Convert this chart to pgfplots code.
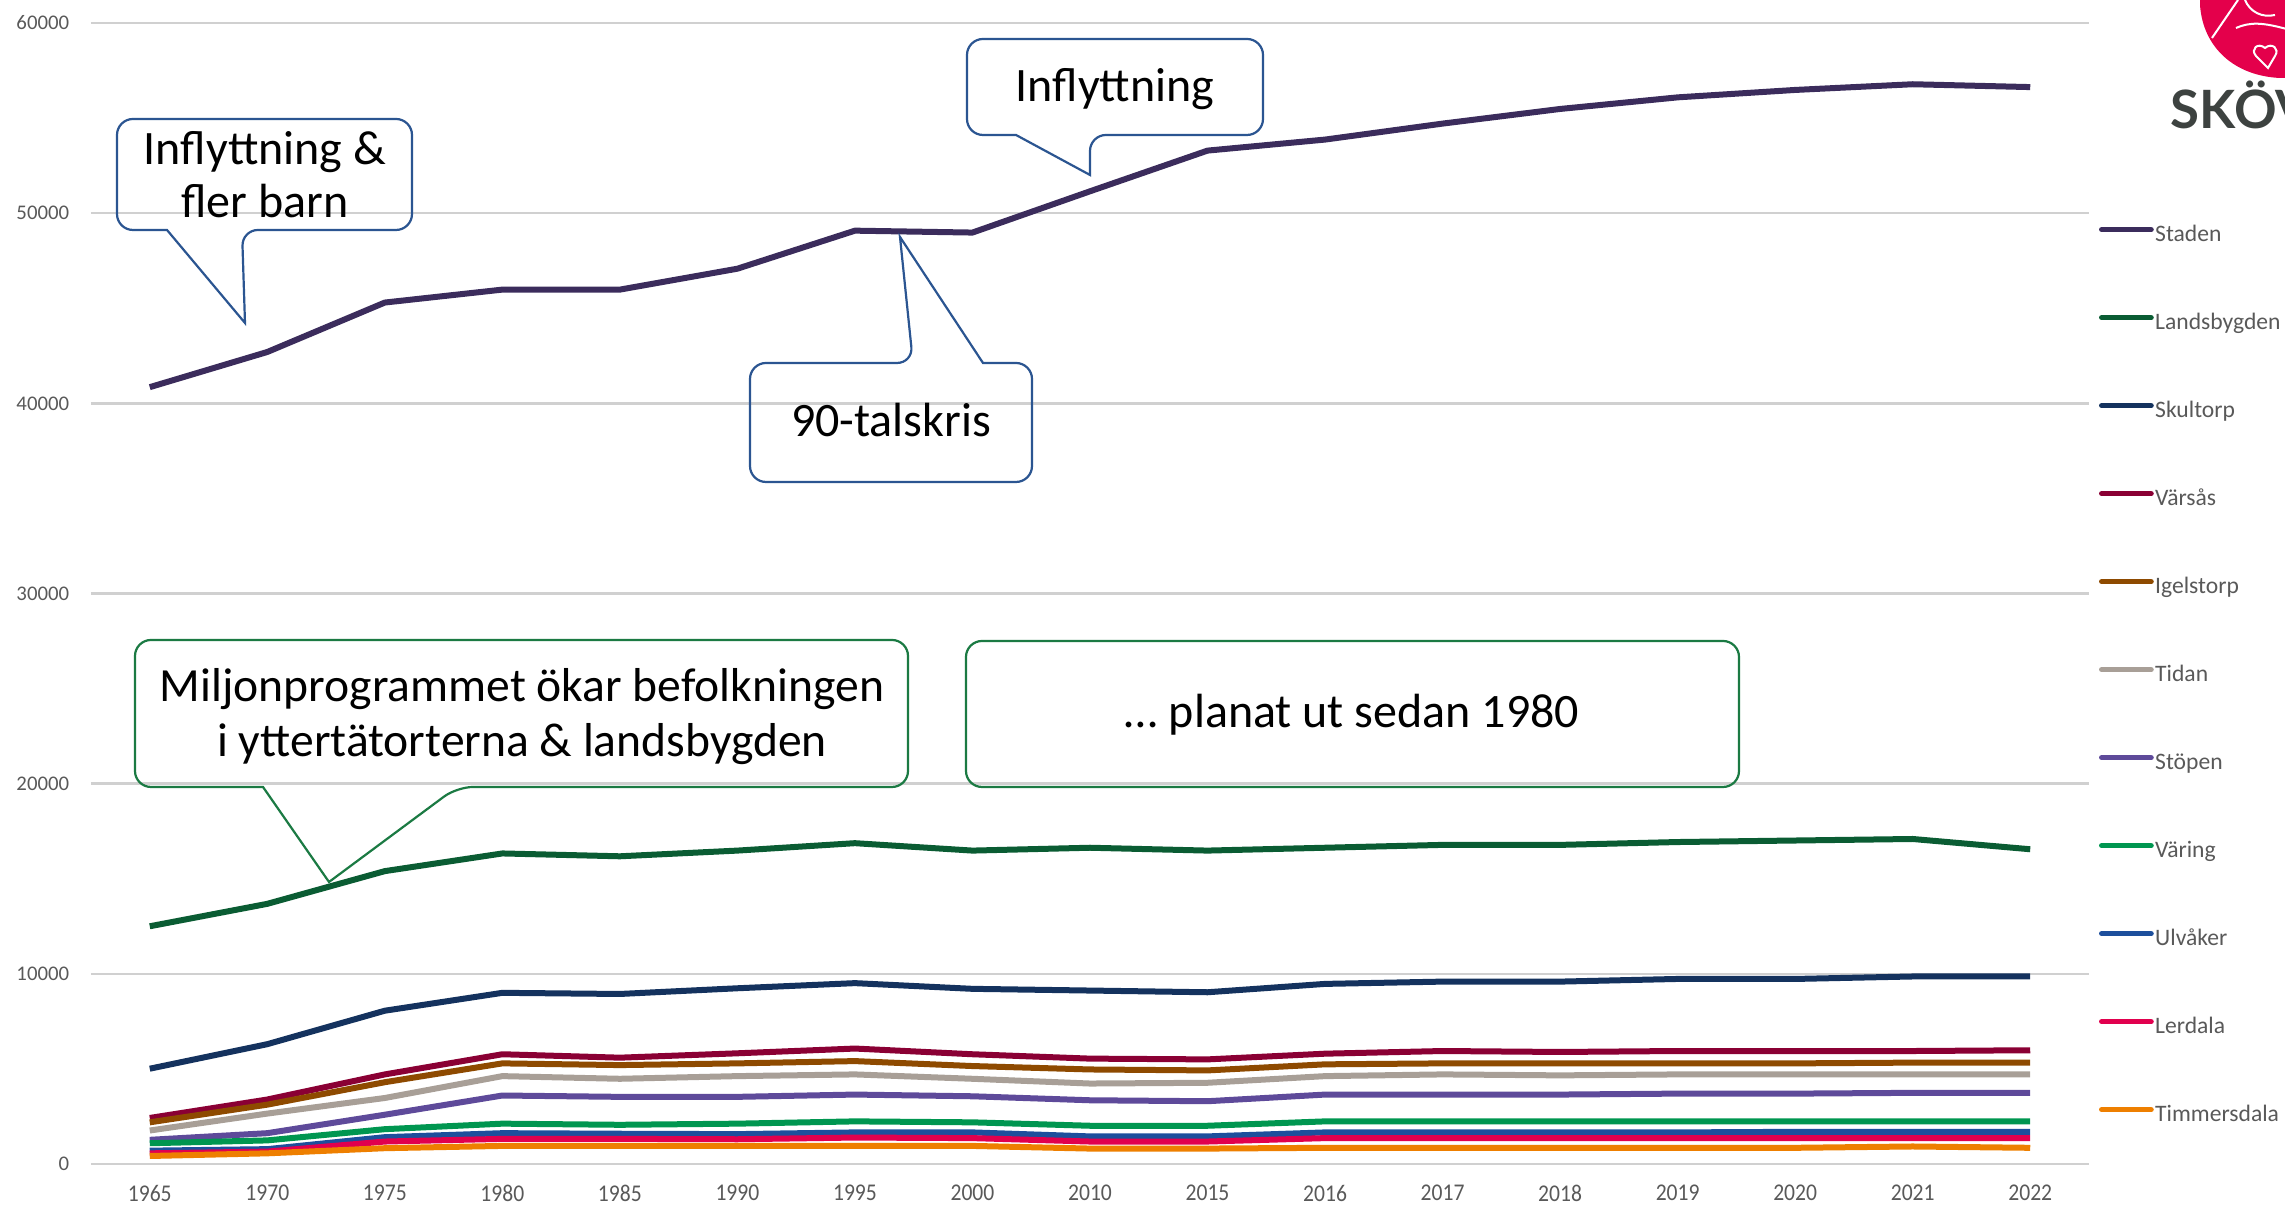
\documentclass[border=0pt]{standalone}
\usepackage{fontspec}
\setmainfont{Carlito}
\newfontfamily\condfont[FakeStretch=0.9]{Carlito}
\newfontfamily\logofont{Lato}
\usepackage{pgfplots}
\usepackage{pgfplotstable}
\pgfplotsset{compat=1.18}

\definecolor{cstaden}{HTML}{3B2C5C}
\definecolor{clands}{HTML}{0A5C33}
\definecolor{cskult}{HTML}{14325E}
\definecolor{cvarsas}{HTML}{8A0034}
\definecolor{cigel}{HTML}{8E4A00}
\definecolor{ctidan}{HTML}{A89F97}
\definecolor{cstopen}{HTML}{5E4A9A}
\definecolor{cvaring}{HTML}{009650}
\definecolor{culvaker}{HTML}{1D4F9C}
\definecolor{clerdala}{HTML}{E1004E}
\definecolor{ctimmer}{HTML}{EE7F00}
\definecolor{gridgrey}{HTML}{D0D0D0}
\definecolor{labgrey}{HTML}{595959}
\definecolor{callblue}{HTML}{2B5591}
\definecolor{callgreen}{HTML}{1B7A43}
\definecolor{logopink}{HTML}{E4004B}
\definecolor{logogrey}{HTML}{3D4240}

\pgfplotstableread{
i  Staden Lands Skult Varsas Igel Tidan Stopen Varing Ulvaker Lerdala Timmer
0  40850  12500 5010  2420   2190 1760  1270   1090   700     560     420
1  42700  13680 6300  3390   3120 2650  1620   1240   780     650     560
2  45300  15400 8060  4710   4300 3470  2590   1830   1410    1180    830
3  45980  16330 9000  5770   5290 4620  3600   2120   1620    1320    950
4  45980  16180 8940  5590   5200 4480  3530   2060   1590    1320    950
5  47080  16480 9240  5820   5290 4620  3530   2120   1570    1300    950
6  49080  16870 9510  6070   5410 4710  3650   2240   1660    1390    950
7  48980  16480 9210  5770   5150 4480  3560   2190   1660    1360    950
8  51150  16630 9120  5540   4970 4230  3350   2010   1450    1180    810
9  53290  16480 9030  5500   4920 4270  3300   2010   1450    1180    810
10 53870  16630 9470  5800   5240 4620  3650   2240   1660    1360    850
11 54710  16780 9590  5940   5290 4710  3650   2240   1660    1360    850
12 55480  16780 9590  5890   5290 4660  3650   2240   1660    1360    850
13 56090  16930 9730  5940   5290 4710  3700   2240   1660    1360    850
14 56480  17010 9730  5940   5290 4710  3700   2240   1690    1360    850
15 56780  17090 9860  5940   5330 4710  3740   2240   1690    1360    920
16 56630  16550 9860  5980   5330 4710  3740   2240   1690    1360    850
}\data

\begin{document}
\begin{tikzpicture}
% page = 2285 x 1207 px at 0.25pt per px; axis origin at px (91,1164)
\useasboundingbox (-22.75pt,-10.75pt) rectangle (548.5pt,291pt);
\begin{axis}[
  at={(0,0)}, anchor=south west,
  scale only axis, width=499.5pt, height=285.25pt,
  xmin=-0.5, xmax=16.5, ymin=0, ymax=60000,
  xtick={0,...,16},
  xticklabels={1965,1970,1975,1980,1985,1990,1995,2000,2010,2015,2016,2017,2018,2019,2020,2021,2022},
  ytick={0,10000,20000,30000,40000,50000,60000},
  axis line style={draw=none},
  major tick length=0pt,
  ymajorgrids, grid style={color=gridgrey, line width=0.6pt},
  /pgf/number format/assume math mode=true,
  /pgf/number format/1000 sep={},
  scaled y ticks=false,
  yticklabel style={font=\fontsize{5.2}{6}\selectfont, text=labgrey, anchor=east, inner sep=0pt, xshift=-5.25pt},
  xticklabel style={font=\condfont\fontsize{6}{7}\selectfont, text=labgrey, anchor=north, inner sep=0pt, yshift=-5.1pt},
  legend style={at={(1.005,0.8238)}, anchor=north west, draw=none, fill=none,
    inner sep=0pt, outer sep=0pt, font=\fontsize{5.9}{7}\selectfont, text=labgrey,
    row sep=16pt, nodes={inner xsep=0.35pt, inner ysep=0pt, text height=4.4pt, text depth=1.6pt}},
  legend cell align=left,
  legend image code/.code={\draw[#1, line width=1.4pt, line cap=round] (0pt,1.6pt) -- (12.3pt,1.6pt);},
  every axis plot/.append style={line width=1.5pt, line join=round},
]
\addplot[color=cstaden] table[x=i, y=Staden]{\data};
\addlegendentry{Staden}
\addplot[color=clands] table[x=i, y=Lands]{\data};
\addlegendentry{Landsbygden}
\addplot[color=cskult] table[x=i, y=Skult]{\data};
\addlegendentry{Skultorp}
\addplot[color=cvarsas] table[x=i, y=Varsas]{\data};
\addlegendentry{Värsås}
\addplot[color=cigel] table[x=i, y=Igel]{\data};
\addlegendentry{Igelstorp}
\addplot[color=ctidan] table[x=i, y=Tidan]{\data};
\addlegendentry{Tidan}
\addplot[color=cstopen] table[x=i, y=Stopen]{\data};
\addlegendentry{Stöpen}
\addplot[color=cvaring] table[x=i, y=Varing]{\data};
\addlegendentry{Väring}
\addplot[color=culvaker] table[x=i, y=Ulvaker]{\data};
\addlegendentry{Ulvåker}
\addplot[color=clerdala] table[x=i, y=Lerdala]{\data};
\addlegendentry{Lerdala}
\addplot[color=ctimmer] table[x=i, y=Timmer]{\data};
\addlegendentry{Timmersdala}
\end{axis}

\begin{scope}[shift={(-22.75pt,291pt)}, x=0.25pt, y=-0.25pt]
  % callouts
  \draw[callblue, line width=0.55pt, rounded corners=4pt]
    (117,175) -- (117,119) -- (412,119) -- (412,230) -- (242,230) [sharp corners] -- (245,323) -- (167,230) [rounded corners=4pt] -- (117,230) -- cycle;
  \draw[callblue, line width=0.55pt, rounded corners=4pt]
    (967,87) -- (967,39) -- (1263,39) -- (1263,135) -- (1090,135) [sharp corners] -- (1090,175) -- (1016,135) [rounded corners=4pt] -- (967,135) -- cycle;
  \draw[callblue, line width=0.55pt, rounded corners=4pt]
    (750,420) -- (750,363) -- (913,363) [sharp corners] -- (900,237) -- (983,363) [rounded corners=4pt] -- (1032,363) -- (1032,482) -- (750,482) -- cycle;
  \draw[callgreen, line width=0.55pt, rounded corners=4pt]
    (135,710) -- (135,640) -- (908,640) -- (908,787) -- (457,787) [sharp corners] -- (329,882) -- (263,787) [rounded corners=4pt] -- (135,787) -- cycle;
  \draw[callgreen, line width=0.55pt, rounded corners=4pt]
    (966,641) rectangle (1739,787);
  \begin{scope}[every node/.style={anchor=base, inner sep=0pt, font=\fontsize{12}{14}\selectfont, text=black}]
    \node at (265,165) {Inflyttning \&};
    \node at (265,218) {fler barn};
    \node at (1115,102) {Inflyttning};
    \node at (891,437) {90-talskris};
    \node[font=\fontsize{11.9}{14}\selectfont] at (522,702) {Miljonprogrammet ökar befolkningen};
    \node[font=\fontsize{11.9}{14}\selectfont] at (522,757) {i yttertätorterna \& landsbygden};
    \node at (1352,728) {… planat ut sedan 1980};
  \end{scope}
  % logo (partly outside the page, as in the reference)
  \fill[logopink] (2200,-10) -- (2200,5) .. controls (2203,48) and (2235,76) .. (2280,78) -- (2310,78) -- (2310,-10) -- cycle;
  \draw[white, line width=0.5pt] (2212,38) -- (2238,0);
  \draw[white, line width=0.5pt] (2236,28) .. controls (2250,22) and (2262,22) .. (2290,30);
  \draw[white, line width=0.5pt] (2245,0) .. controls (2250,12) and (2262,18) .. (2275,15);
  \draw[white, line width=0.5pt] (2268,68) -- (2256,56) .. controls (2250,49) and (2258,42) .. (2265,48)
     .. controls (2272,42) and (2280,49) .. (2275,56) -- cycle;
  \node[anchor=base west, inner sep=0pt, font=\logofont\bfseries\fontsize{13.2}{14}\selectfont, text=logogrey] at (2170,129) {SKÖVDE};
\end{scope}
\end{tikzpicture}
\end{document}
